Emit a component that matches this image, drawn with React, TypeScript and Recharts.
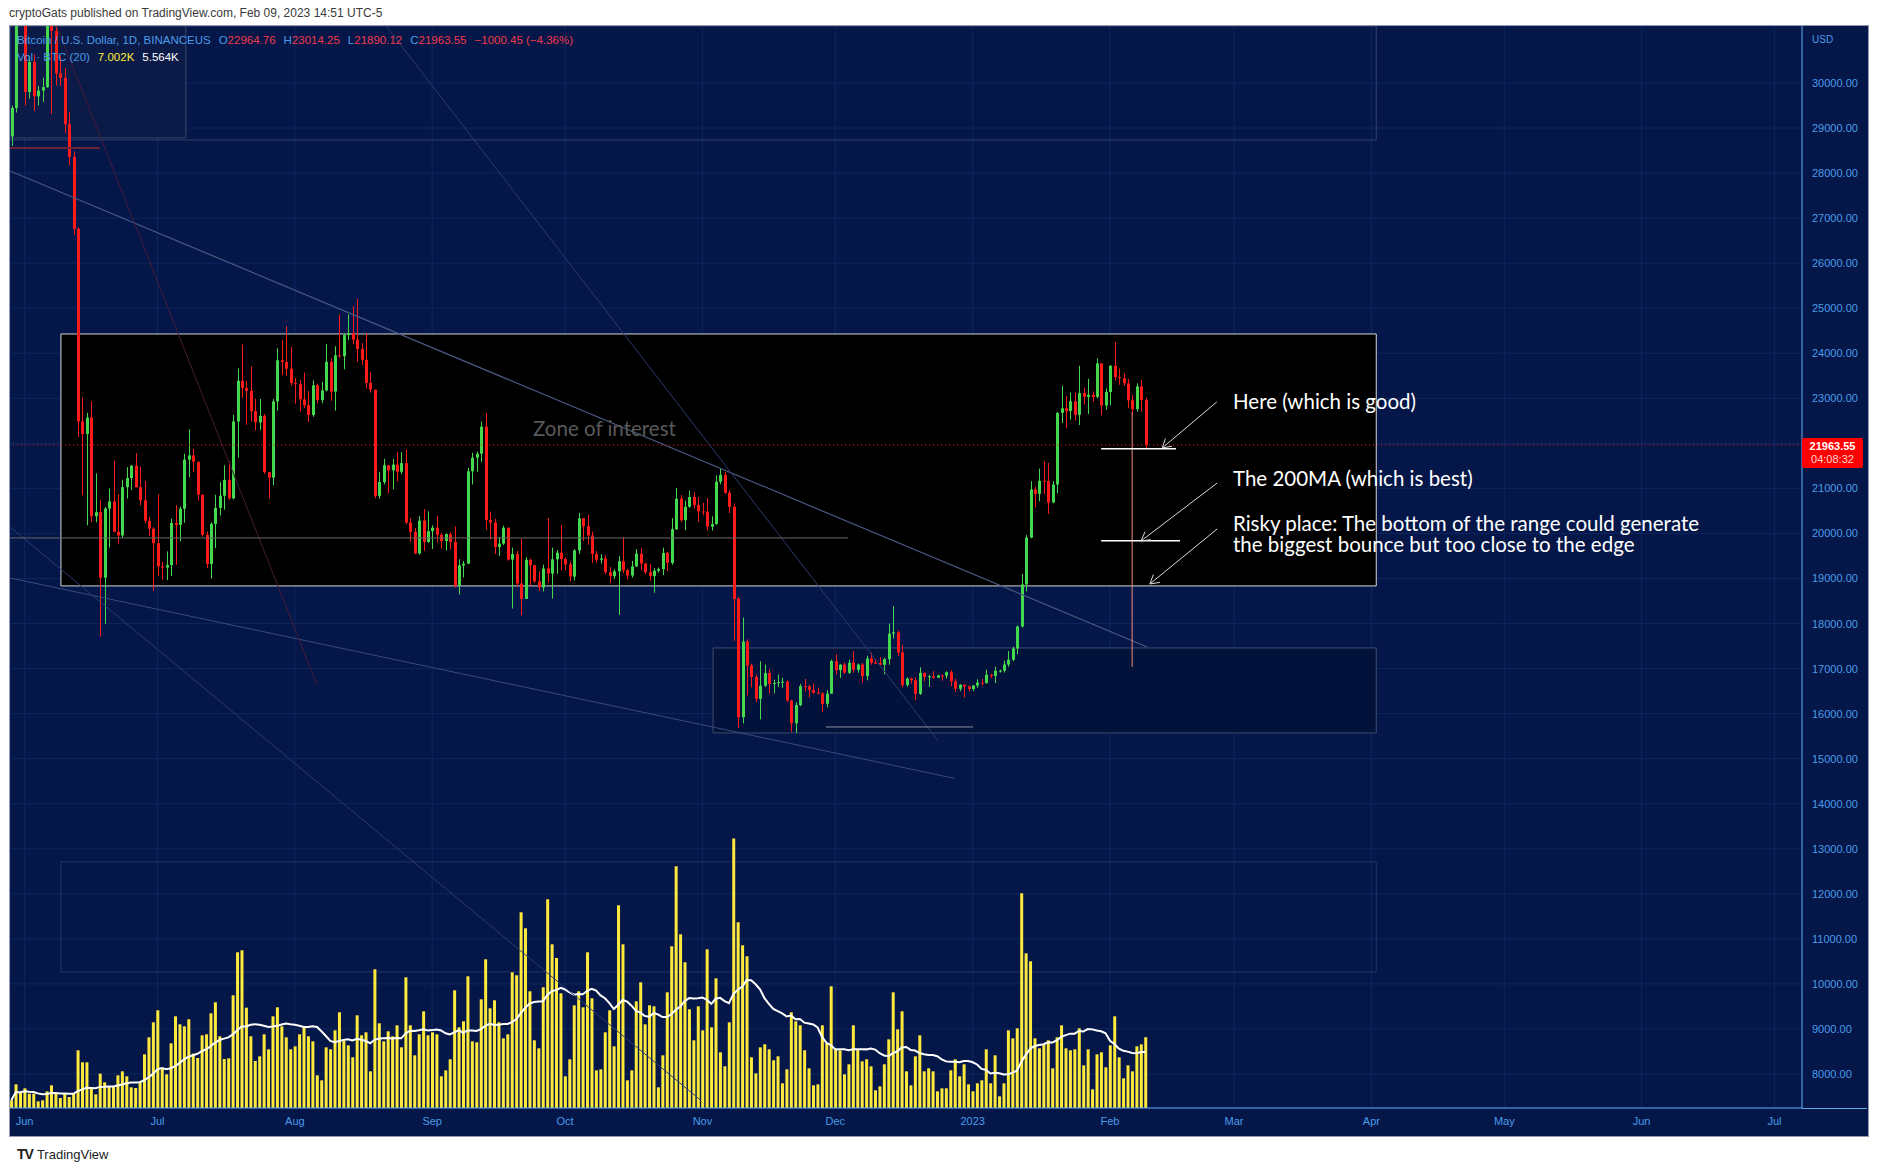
import React from 'react';
import { ComposedChart, Bar, Line, XAxis, YAxis, CartesianGrid, ReferenceLine, ReferenceArea } from 'recharts';

// Daily candles from 2022-05-29 (index 0) to 2023-02-09 (index 256)
const firstOpen = 28814;
const closes = [
  29445, 31726, 31792,
  29799, 30467, 29704, 29832, 29906, 31370, 31155, 30214, 30112, 29083, 28360, 26762, 22487, 22206, 22572, 20381, 20471, 19017, 20553, 20710, 20037, 19955, 21028, 21231, 21502, 21028, 20735, 20281, 20105, 19785,
  19270, 19243, 19298, 20232, 20191, 20548, 21637, 21731, 21592, 20861, 19970, 19323, 20212, 20569, 20837, 21190, 20779, 22486, 23389, 23231, 23164, 22714, 22466, 22609, 21361, 21240, 22931, 23843, 23804, 23656, 23337,
  23314, 22978, 22846, 22630, 23289, 22961, 23175, 23810, 23149, 23954, 23934, 24403, 24441, 24305, 24094, 23854, 23342, 23191, 20834, 21140, 21515, 21400, 21529, 21368, 21560, 20241, 20037, 19555, 20285, 19811, 20050,
  20127, 19969, 19832, 19986, 19812, 18837, 19290, 19329, 21381, 21680, 21770, 22370, 20297, 20241, 19701, 19773, 20127, 19419, 19544, 18891, 18547, 19413, 19297, 18937, 18802, 19222, 19110, 19426, 19573, 19431,
  19312, 19044, 19623, 20336, 20160, 19955, 19546, 19416, 19446, 19141, 19051, 19157, 19382, 19185, 19067, 19268, 19550, 19334, 19139, 19053, 19172, 19208, 19567, 19345, 20095, 20771, 20295, 20591, 20809, 20627, 20490,
  20483, 20151, 20207, 21148, 21299, 20905, 20591, 18547, 15922, 17601, 17070, 16812, 16329, 16619, 16900, 16662, 16680, 16697, 16711, 16292, 15787, 16189, 16610, 16604, 16521, 16464, 16444, 16217, 16444, 17168,
  16967, 17088, 16908, 17130, 16974, 17089, 16836, 17224, 17128, 17127, 17085, 17209, 17775, 17804, 17356, 16633, 16779, 16739, 16440, 16906, 16817, 16830, 16796, 16847, 16842, 16919, 16717, 16552, 16642, 16602, 16547,
  16625, 16688, 16680, 16863, 16836, 16951, 16955, 17091, 17196, 17446, 17934, 18869, 19909, 20976, 20880, 21169, 21161, 20688, 21086, 22676, 22777, 22720, 22934, 22636, 23117, 23032, 23078, 23031, 23774, 22840, 23139,
  23723, 23471, 23449, 23331, 22955, 22760, 23264, 22964.76, 21963.55,
];
const highs = [
  29498, 31949, 32249,
  31957, 30604, 30633, 29930, 30117, 31693, 31489, 31253, 30590, 30333, 29366, 28483, 26795, 23018, 22677, 22934, 21334, 20746, 20588, 20998, 21614, 20871, 21192, 21472, 21520, 21783, 21478, 21164, 20364, 20141,
  20866, 19371, 19602, 20326, 20627, 20595, 21771, 22314, 21877, 21591, 20841, 20044, 20242, 20857, 21138, 21514, 21601, 22633, 23666, 24196, 23383, 23708, 22992, 22986, 22652, 21361, 22982, 24110, 24294, 24605, 24141,
  23450, 23407, 23570, 23166, 23396, 23327, 23368, 24203, 23884, 24155, 24861, 24437, 24860, 25047, 25212, 24225, 24447, 23578, 23195, 21361, 21658, 21515, 21658, 21806, 21807, 21860, 20340, 20123, 20383, 20542, 20490,
  20182, 20394, 20014, 19999, 20024, 20155, 19427, 19389, 21453, 21791, 21817, 22488, 22673, 20486, 20328, 19916, 20174, 20127, 19686, 19610, 19880, 19474, 19442, 19303, 19159, 19306, 20339, 19687, 19633, 20185,
  19471, 19372, 19653, 20456, 20343, 20413, 20038, 19610, 19542, 19515, 19253, 19203, 19501, 19921, 19212, 19390, 19653, 19681, 19348, 19314, 19230, 19243, 19684, 19586, 20341, 21011, 20853, 20726, 20948, 20916, 20807,
  20677, 20782, 20380, 21286, 21446, 21365, 20957, 20667, 18590, 18132, 17650, 17110, 16868, 17161, 17090, 16980, 16753, 16865, 16796, 16737, 16298, 16254, 16656, 16768, 16640, 16666, 16580, 16480, 16522, 17199,
  17320, 17094, 17139, 17198, 17392, 17111, 17125, 17285, 17350, 17217, 17256, 17241, 18000, 18387, 17846, 17531, 16800, 16800, 16805, 17028, 16907, 16860, 16944, 16862, 16865, 16939, 16964, 16773, 16651, 16643, 16628,
  16630, 16760, 16773, 16976, 16884, 17041, 16975, 17176, 17389, 17484, 17959, 19099, 19964, 21159, 21043, 21438, 21601, 21564, 21163, 22692, 23282, 23056, 23127, 23134, 23722, 23237, 23435, 23150, 23885, 23782, 23218,
  23735, 24255, 23662, 23553, 23431, 23077, 23334, 23410, 23014.25,
];
const lows = [
  28603, 29345, 31286,
  29501, 29652, 29375, 29500, 29574, 29894, 29311, 29944, 29930, 28893, 28170, 26631, 22141, 20846, 20179, 20250, 20246, 17708, 17993, 19685, 20035, 19770, 19903, 20777, 20964, 21016, 20620, 20228, 19938, 18729,
  19057, 18977, 18966, 19055, 19304, 19823, 20237, 21249, 21367, 20727, 19930, 19239, 18999, 19673, 20397, 20527, 20750, 20757, 21683, 23009, 22412, 22487, 22290, 22296, 21326, 20777, 21070, 22722, 23512, 23505, 23280,
  22881, 22706, 22786, 22477, 22590, 22885, 22894, 23152, 22945, 22730, 23901, 23643, 24290, 24200, 23805, 23739, 23216, 23127, 20780, 20770, 21089, 20890, 20981, 21155, 21313, 20206, 19811, 19540, 19530, 19617, 19790,
  19653, 19804, 19665, 19622, 19643, 18800, 18644, 19024, 19318, 21088, 21361, 21582, 20085, 19867, 19541, 19497, 19741, 19395, 18333, 18830, 18185, 18553, 18842, 18902, 18720, 18712, 18910, 18554, 19102, 19183,
  19182, 18935, 18957, 19541, 19835, 19749, 19346, 19353, 19330, 19102, 18895, 18988, 18191, 19117, 18983, 19020, 19262, 19181, 19092, 18947, 18682, 19131, 19074, 19162, 19305, 20075, 20256, 20070, 20570, 20550, 20254,
  20402, 20068, 20066, 20194, 21093, 20880, 20450, 17614, 15683, 15782, 16402, 16583, 16256, 15870, 16590, 16452, 16453, 16592, 16574, 16263, 15599, 15571, 16167, 16493, 16357, 16440, 16431, 16030, 16141, 16441,
  16875, 16792, 16880, 16880, 16906, 16906, 16689, 16740, 17085, 17120, 17084, 16872, 17084, 17666, 17276, 16584, 16598, 16664, 16297, 16415, 16718, 16592, 16771, 16794, 16733, 16780, 16608, 16481, 16496, 16357, 16490,
  16500, 16572, 16623, 16665, 16791, 16679, 16914, 16910, 17040, 17163, 17315, 17911, 18714, 19891, 20579, 20710, 20877, 20434, 20669, 20891, 22452, 22336, 22524, 22502, 22406, 22858, 22650, 22921, 22997, 22622, 22748,
  22846, 23394, 23300, 23280, 22781, 22627, 22704, 22708, 21890.12,
];
// Volume in BTC
const volumes = [
  759, 2343, 1584,
  1947, 1419, 1419, 660, 759, 1650, 2244, 1419, 990, 1419, 1089, 1419, 5709, 4521, 4521, 1914, 1353, 3399, 2541, 2079, 2079, 3234, 3630, 3135, 2046, 1980, 2508, 5313, 6996, 8481,
  9669, 3894, 3333, 6402, 9075, 8283, 8085, 8778, 5379, 4950, 7194, 7293, 9372, 10461, 7095, 4851, 4917, 11154, 15411, 15609, 9933, 7095, 4653, 5115, 7293, 5808, 9075, 9966, 8085, 6996, 5808,
  6105, 7293, 7986, 7095, 6600, 3234, 2739, 6006, 5808, 7689, 9471, 6699, 6204, 5016, 9174, 7194, 7491, 3630, 13728, 8382, 6600, 7590, 7095, 8184, 6006, 12936, 8184, 5214, 7293, 9570, 7194,
  7491, 7293, 3135, 3729, 4818, 11649, 7986, 8580, 13035, 6600, 6501, 10758, 14718, 9867, 10659, 8481, 6897, 7293, 13431, 13134, 19371, 17787, 11550, 6699, 5907, 11946, 20658, 16203, 14850, 11352,
  3135, 4818, 10164, 11550, 9966, 15411, 10857, 3729, 3828, 7491, 9669, 6105, 20064, 16203, 2739, 3729, 10560, 12441, 8283, 10164, 10065, 2046, 5214, 11451, 16005, 23925, 17193, 14421, 9768, 6699, 10065,
  7689, 15708, 7986, 12837, 5511, 4125, 8481, 26664, 18381, 16104, 15015, 5016, 3432, 6006, 6303, 5808, 4719, 5115, 2442, 3828, 9471, 8580, 8184, 5709, 3927, 2244, 2343, 8184, 6402, 12045,
  5907, 5709, 3333, 4323, 8184, 5808, 4620, 4818, 4125, 1749, 2145, 4323, 6798, 11451, 7788, 9570, 3630, 2244, 5115, 7194, 3630, 3927, 3630, 1650, 1947, 1947, 3729, 4818, 3135, 4323, 2343,
  1650, 2442, 2739, 5808, 2442, 5214, 1155, 2442, 7689, 6897, 7887, 21252, 15312, 14520, 6897, 5907, 6303, 6699, 3927, 6996, 8184, 5907, 5709, 5808, 7887, 4224, 5808, 1848, 5313, 5511, 4026,
  6204, 9075, 5016, 2937, 4224, 3630, 6105, 6303, 7002,
];

const monthTickIdx = [3, 33, 64, 95, 125, 156, 186, 217, 248, 276, 307, 337, 368, 398];
const monthLabels = ['Jun', 'Jul', 'Aug', 'Sep', 'Oct', 'Nov', 'Dec', '2023', 'Feb', 'Mar', 'Apr', 'May', 'Jun', 'Jul'];
const priceTicks = [8000, 9000, 10000, 11000, 12000, 13000, 14000, 15000, 16000, 17000, 18000, 19000, 20000, 21000, 22000, 23000, 24000, 25000, 26000, 27000, 28000, 29000, 30000];

const lastPrice = 21963.55;

// Drawings (index / price coordinates)
const boxes = [
  { x1: -0.3, x2: 308.1, y1: 28735, y2: 31265, fill: 'none', stroke: '#34436b' },
  { x1: -0.3, x2: 39.4, y1: 28780, y2: 31265, fill: '#0b1a47', stroke: '#3c4a70' },
  { x1: 11.2, x2: 308.1, y1: 18835, y2: 24428, fill: '#000000', stroke: '#d6d6d6' },
  { x1: 158.4, x2: 308.1, y1: 15571, y2: 17458, fill: '#03123a', stroke: '#3f4b6e' },
  { x1: 11.2, x2: 308.1, y1: 10266, y2: 12708, fill: 'none', stroke: '#22336a' },
];
const trendLines = [
  { x1: -0.3, y1: 28047, x2: 256.4, y2: 17480, color: '#4b5a84', w: 1.2 },
  { x1: 84.6, y1: 31265, x2: 209.2, y2: 15394, color: '#2c3c70', w: 1 },
  { x1: -0.3, y1: 20144, x2: 155.5, y2: 7425, color: '#2c3c70', w: 1 },
  { x1: -0.3, y1: 19012, x2: 213, y2: 14561, color: '#3a4a7c', w: 1 },
  { x1: 10.3, y1: 31243, x2: 69, y2: 16637, color: '#461a38', w: 1 },
  { x1: -0.3, y1: 28557, x2: 20, y2: 28557, color: '#6e2438', w: 2 },
  { x1: -0.3, y1: 19900, x2: 188.9, y2: 19900, color: '#6a6a6a', w: 1 },
  { x1: 183.9, y1: 15704, x2: 217.1, y2: 15704, color: '#8a90a4', w: 1 },
  { x1: 253, y1: 22700, x2: 253, y2: 17040, color: '#f08a78', w: 1 },
  { x1: 246, y1: 21880, x2: 262.9, y2: 21880, color: '#ffffff', w: 1.5 },
  { x1: 246, y1: 19840, x2: 263.8, y2: 19840, color: '#ffffff', w: 1.5 },
];
const arrows = [
  { x1: 272.1, y1: 22919, x2: 259.8, y2: 21898, wa: [262.0, 21935], wb: [260.5, 22106] },
  { x1: 272.2, y1: 21121, x2: 255.0, y2: 19833, wa: [257.2, 19862], wb: [255.9, 20037] },
  { x1: 272.2, y1: 20100, x2: 257.0, y2: 18879, wa: [259.3, 18914], wb: [257.8, 19088] },
];

const rows = closes.map((c, i) => {
  const s = Math.max(0, i - 19);
  const win = volumes.slice(s, i + 1);
  return {
    i,
    o: i === 0 ? firstOpen : closes[i - 1],
    h: highs[i],
    l: lows[i],
    c,
    v: volumes[i],
    ma: win.reduce((a, b) => a + b, 0) / win.length,
  };
});

const BG = '#041748';
const AXIS_TXT = '#4a9be8';
const AXIS_LINE = '#5aa6ee';

const Candle = (props: any) => {
  const { x, y, width, height, payload } = props;
  if (x == null || y == null || !payload) return null;
  const { o, h, l, c } = payload;
  const top = Math.min(y, y + height);
  const bot = Math.max(y, y + height);
  const span = h - l || 1;
  const py = (p: number) => top + ((h - p) / span) * (bot - top);
  const up = c >= o;
  const color = up ? '#44d84f' : '#ff1a1a';
  const cx = Math.round(x + width / 2) + 0.5;
  const bTop = py(Math.max(o, c));
  const bBot = py(Math.min(o, c));
  return (
    <g>
      <line x1={cx} x2={cx} y1={top} y2={bot} stroke={color} strokeWidth={1} />
      <rect x={cx - 1.5} y={bTop} width={3} height={Math.max(1, bBot - bTop)} fill={color} />
    </g>
  );
};

const XTick = (props: any) => {
  const { x, payload } = props;
  const k = monthTickIdx.indexOf(payload.value);
  return (
    <text x={x} y={1099} textAnchor="middle" fill={AXIS_TXT} fontSize={11} fontFamily="Liberation Sans, Arial, sans-serif">
      {monthLabels[k]}
    </text>
  );
};

const YTick = (props: any) => {
  const { y, payload } = props;
  return (
    <text x={1802} y={y + 4} textAnchor="start" fill={AXIS_TXT} fontSize={11} fontFamily="Liberation Sans, Arial, sans-serif">
      {Number(payload.value).toFixed(2)}
    </text>
  );
};

const annoFont = 'Lato, "Open Sans", sans-serif';

export default function App() {
  return (
    <div style={{ position: 'absolute', left: 0, top: 0, width: 1878, height: 1171, background: '#ffffff', overflow: 'hidden' }}>
      <div style={{ position: 'absolute', left: 9, top: 6, fontSize: 12, color: '#3a3a3a', fontFamily: 'Liberation Sans, Arial, sans-serif', whiteSpace: 'nowrap' }}>
        cryptoGats published on TradingView.com, Feb 09, 2023 14:51 UTC-5
      </div>
      <div style={{ position: 'absolute', left: 9, top: 25, width: 1858, height: 1110, border: '1px solid #8f98ad', background: BG }} />
      <div style={{ position: 'absolute', left: 10, top: 26, width: 1857, height: 1109 }}>
        <ComposedChart width={1857} height={1109} data={rows} margin={{ top: 0, right: 0, bottom: 0, left: 0 }}>
          <XAxis xAxisId="p" dataKey="i" type="number" domain={[-0.3, 404.2]} allowDataOverflow ticks={monthTickIdx}
            height={27} tick={<XTick />} tickLine={false} axisLine={{ stroke: AXIS_LINE }} interval={0} />
          <XAxis xAxisId="v" dataKey="i" type="number" domain={[-0.3, 404.2]} allowDataOverflow hide />
          <YAxis yAxisId="p" orientation="right" width={65} domain={[7245, 31265]} allowDataOverflow ticks={priceTicks}
            tick={<YTick />} tickLine={false} axisLine={{ stroke: AXIS_LINE }} interval={0} />
          <YAxis yAxisId="v" orientation="left" domain={[0, 107100]} allowDataOverflow hide />
          <CartesianGrid xAxisId="p" yAxisId="p" stroke="#0d2760" strokeWidth={1} />
          {boxes.map((b, k) => (
            <ReferenceArea key={'b' + k} xAxisId="p" yAxisId="p" x1={b.x1} x2={b.x2} y1={b.y1} y2={b.y2}
              fill={b.fill} fillOpacity={1} stroke={b.stroke} strokeWidth={1} ifOverflow="hidden" />
          ))}
          <Bar xAxisId="v" yAxisId="v" dataKey="v" fill="#ffe93d" barSize={3} isAnimationActive={false} />
          <Line xAxisId="v" yAxisId="v" dataKey="ma" stroke="#ffffff" strokeWidth={2} dot={false} type="linear" isAnimationActive={false} />
          {trendLines.map((t, k) => (
            <ReferenceLine key={'t' + k} xAxisId="p" yAxisId="p" segment={[{ x: t.x1, y: t.y1 }, { x: t.x2, y: t.y2 }]}
              stroke={t.color} strokeWidth={t.w} ifOverflow="hidden" />
          ))}
          <Bar xAxisId="p" yAxisId="p" dataKey={(d: any) => [d.l, d.h]} barSize={3} shape={<Candle />} isAnimationActive={false} />
          <ReferenceLine xAxisId="p" yAxisId="p" y={lastPrice} stroke="#ff1a1a" strokeDasharray="1 3" strokeWidth={1} />
          {arrows.map((a, k) => (
            <ReferenceLine key={'a' + k} xAxisId="p" yAxisId="p" segment={[{ x: a.x1, y: a.y1 }, { x: a.x2, y: a.y2 }]}
              stroke="#d9d9d9" strokeWidth={1} ifOverflow="hidden" />
          ))}
          {arrows.map((a, k) => (
            <ReferenceLine key={'aw' + k} xAxisId="p" yAxisId="p" segment={[{ x: a.wa[0], y: a.wa[1] }, { x: a.x2, y: a.y2 }]}
              stroke="#d9d9d9" strokeWidth={1} ifOverflow="hidden" />
          ))}
          {arrows.map((a, k) => (
            <ReferenceLine key={'ab' + k} xAxisId="p" yAxisId="p" segment={[{ x: a.wb[0], y: a.wb[1] }, { x: a.x2, y: a.y2 }]}
              stroke="#d9d9d9" strokeWidth={1} ifOverflow="hidden" />
          ))}
        </ComposedChart>
      </div>
      {/* horizontal axis line under the price scale */}
      <div style={{ position: 'absolute', left: 1802, top: 1108, width: 65, height: 1, background: AXIS_LINE }} />
      {/* legend */}
      <div style={{ position: 'absolute', left: 17, top: 34, fontSize: 11.5, fontFamily: 'Liberation Sans, Arial, sans-serif', whiteSpace: 'nowrap', color: '#4a9be8' }}>
        <span>Bitcoin / U.S. Dollar, 1D, BINANCEUS</span>
        <span style={{ marginLeft: 8 }}>O</span><span style={{ color: '#f2394a' }}>22964.76</span>
        <span style={{ marginLeft: 8 }}>H</span><span style={{ color: '#f2394a' }}>23014.25</span>
        <span style={{ marginLeft: 8 }}>L</span><span style={{ color: '#f2394a' }}>21890.12</span>
        <span style={{ marginLeft: 8 }}>C</span><span style={{ color: '#f2394a' }}>21963.55</span>
        <span style={{ marginLeft: 8, color: '#f2394a' }}>−1000.45 (−4.36%)</span>
      </div>
      <div style={{ position: 'absolute', left: 17, top: 51, fontSize: 11.5, fontFamily: 'Liberation Sans, Arial, sans-serif', whiteSpace: 'nowrap', color: '#4a9be8' }}>
        <span>Vol · BTC (20)</span>
        <span style={{ marginLeft: 8, color: '#ffeb3b' }}>7.002K</span>
        <span style={{ marginLeft: 8, color: '#ffffff' }}>5.564K</span>
      </div>
      <div style={{ position: 'absolute', left: 1812, top: 34, fontSize: 10, color: AXIS_TXT, fontFamily: 'Liberation Sans, Arial, sans-serif' }}>USD</div>
      {/* last price label */}
      <div style={{ position: 'absolute', left: 1802, top: 438, width: 61, height: 30, background: '#ff0000', borderRadius: 2, fontFamily: 'Liberation Sans, Arial, sans-serif', textAlign: 'center' }}>
        <div style={{ fontSize: 11, fontWeight: 700, color: '#ffffff', lineHeight: '14px', marginTop: 1 }}>21963.55</div>
        <div style={{ fontSize: 11, color: '#ffd0d0', lineHeight: '13px' }}>04:08:32</div>
      </div>
      {/* annotations */}
      <div style={{ position: 'absolute', left: 533, top: 416, fontSize: 20.5, color: '#595959', fontFamily: annoFont, whiteSpace: 'nowrap' }}>Zone of interest</div>
      <div style={{ position: 'absolute', left: 1233, top: 389, fontSize: 20.5, color: '#ffffff', fontFamily: annoFont, whiteSpace: 'nowrap' }}>Here (which is good)</div>
      <div style={{ position: 'absolute', left: 1233, top: 466, fontSize: 20.5, color: '#ffffff', fontFamily: annoFont, whiteSpace: 'nowrap' }}>The 200MA (which is best)</div>
      <div style={{ position: 'absolute', left: 1233, top: 513, fontSize: 20.5, lineHeight: '21px', color: '#ffffff', fontFamily: annoFont, whiteSpace: 'nowrap' }}>
        Risky place: The bottom of the range could generate<br />the biggest bounce but too close to the edge
      </div>
      {/* footer */}
      <div style={{ position: 'absolute', left: 17, top: 1145, fontFamily: 'Liberation Sans, Arial, sans-serif', whiteSpace: 'nowrap', color: '#222' }}>
        <span style={{ fontWeight: 900, fontSize: 14, letterSpacing: -1 }}>TV</span>
        <span style={{ fontSize: 13, marginLeft: 4 }}>TradingView</span>
      </div>
    </div>
  );
}
